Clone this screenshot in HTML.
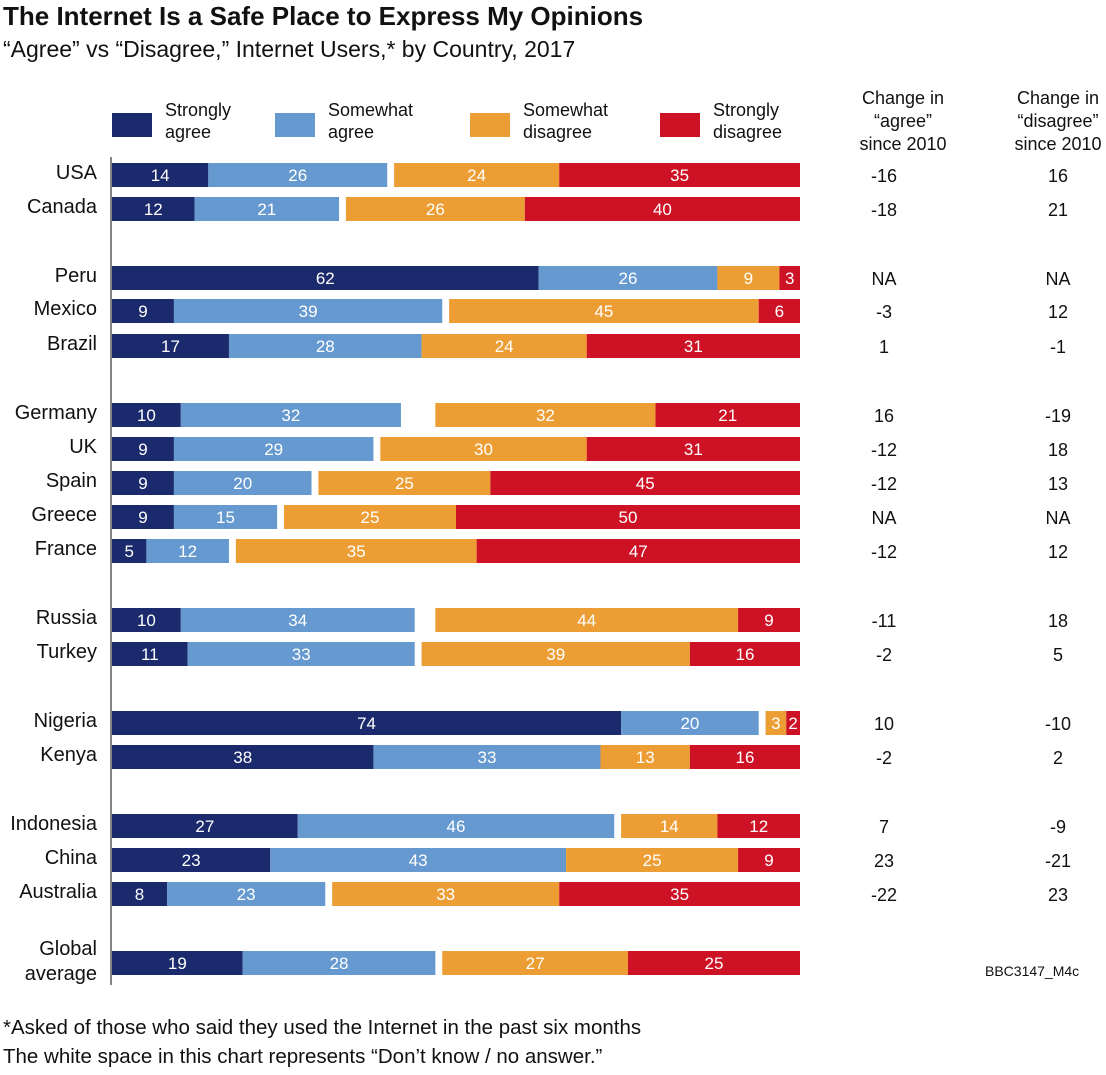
<!DOCTYPE html>
<html><head><meta charset="utf-8">
<style>
body{margin:0;background:#fff;font-family:"Liberation Sans",sans-serif;}
#wrap{position:relative;width:1106px;height:1075px;overflow:hidden;}
.t{position:absolute;white-space:nowrap;color:#111;}
</style></head>
<body>
<div id="wrap">
<div class="t" style="left:3px;top:1px;font-size:26px;font-weight:bold;">The Internet Is a Safe Place to Express My Opinions</div>
<div class="t" style="left:3px;top:36px;font-size:23px;">“Agree” vs “Disagree,” Internet Users,* by Country, 2017</div>
<svg id="svg" width="1106" height="1075" style="position:absolute;left:0;top:0"></svg>
<div class="t" style="left:3px;top:1016px;font-size:20.5px;">*Asked of those who said they used the Internet in the past six months</div>
<div class="t" style="left:3px;top:1045px;font-size:20.5px;">The white space in this chart represents “Don’t know / no answer.”</div>
<div class="t" style="left:985px;top:963px;font-size:14px;">BBC3147_M4c</div>
</div>
<script>
const countries=["USA","Canada","Peru","Mexico","Brazil","Germany","UK","Spain","Greece","France","Russia","Turkey","Nigeria","Kenya","Indonesia","China","Australia","Global average"];
const strongAgree=[14,12,62,9,17,10,9,9,9,5,10,11,74,38,27,23,8,19];
const someAgree=[26,21,26,39,28,32,29,20,15,12,34,33,20,33,46,43,23,28];
const someDisagree=[24,26,9,45,24,32,30,25,25,35,44,39,3,13,14,25,33,27];
const strongDisagree=[35,40,3,6,31,21,31,45,50,47,9,16,2,16,12,9,35,25];
const changeAgree=["-16","-18","NA","-3","1","16","-12","-12","NA","-12","-11","-2","10","-2","7","23","-22",""];
const changeDisagree=["16","21","NA","12","-1","-19","18","13","NA","12","18","5","-10","2","-9","-21","23",""];
const rowY=[175,209,278,311,346,415,449,483,517,551,620,654,723,757,826,860,894,963];
const NS="http://www.w3.org/2000/svg";
const svg=document.getElementById('svg');
const X0=112,X1=800,BH=24;
const x=v=>X0+v*(X1-X0)/100;
const xr=v=>X1-v*(X1-X0)/100;
const cols=["#1b2a6c","#6699cf","#ec9e35","#cd1226"];
function mk(tag,at){const e=document.createElementNS(NS,tag);for(const k in at)e.setAttribute(k,at[k]);svg.appendChild(e);return e;}
function txt(s,px,py,anchor,size,fill){const e=mk('text',{x:px,y:py,'text-anchor':anchor,'font-size':size,fill:fill,'font-family':'Liberation Sans, sans-serif'});e.textContent=s;return e;}
const legNames=[["Strongly","agree"],["Somewhat","agree"],["Somewhat","disagree"],["Strongly","disagree"]];
const legX=[112,275,470,660];
legNames.forEach((n,i)=>{
 const r=mk('rect',{x:legX[i],y:113,width:40,height:24,fill:cols[i]});
 
 
 const a=txt(n[0],legX[i]+53,116,'start',18,'#111');
 
 
 const b=txt(n[1],legX[i]+53,138,'start',18,'#111');
 
 
});
[["Change in","“agree”","since 2010",903],["Change in","“disagree”","since 2010",1058]].forEach(h=>{
 for(let k=0;k<3;k++){const e=txt(h[k],h[3],104+k*23,'middle',18,'#111');
 
 }
});
const ax=mk('line',{x1:111,x2:111,y1:157,y2:985,stroke:'#333','stroke-width':1.2});


countries.forEach((c,i)=>{
 const cy=rowY[i],y=cy-BH/2;
 const segs=[[x(0),x(strongAgree[i]),strongAgree[i]],[x(strongAgree[i]),x(strongAgree[i]+someAgree[i]),someAgree[i]],
  [xr(someDisagree[i]+strongDisagree[i]),xr(strongDisagree[i]),someDisagree[i]],[xr(strongDisagree[i]),X1,strongDisagree[i]]];
 segs.forEach((s,j)=>{
  const r=mk('rect',{x:s[0],y:y,width:s[1]-s[0],height:BH,fill:cols[j]});
  
  
  const t=txt(String(s[2]),(s[0]+s[1])/2,cy+6,'middle',17,'#fff');
  
  
 });
 if(c==="Global average"){
  const a=txt("Global",97,955,'end',20,'#111');
  const b=txt("average",97,980,'end',20,'#111');
 } else {
  const l=txt(c,97,cy+4,'end',20,'#111');
  
  
 }
 const a=txt(changeAgree[i],884,cy+7,'middle',18,'#111');
 
 
 const d=txt(changeDisagree[i],1058,cy+7,'middle',18,'#111');
 
 
});
</script>
</body></html>
